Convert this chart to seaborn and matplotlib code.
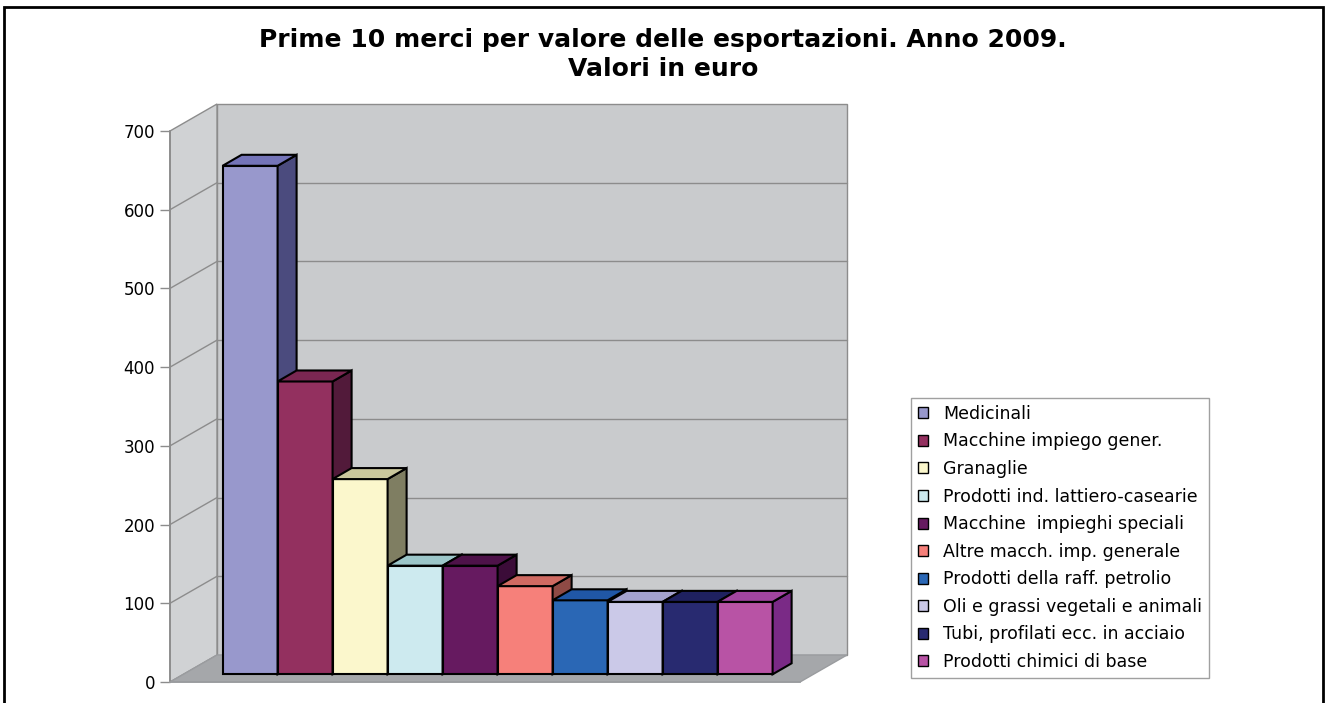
import numpy as np
import pandas as pd
import matplotlib
matplotlib.use("Agg")
import matplotlib.pyplot as plt
import seaborn as sns
from matplotlib.patches import Polygon, Rectangle, Patch
from matplotlib import transforms

# Exports by product, 2009 (euro)
categories = [
    "Medicinali",
    "Macchine impiego gener.",
    "Granaglie",
    "Prodotti ind. lattiero-casearie",
    "Macchine  impieghi speciali",
    "Altre macch. imp. generale",
    "Prodotti della raff. petrolio",
    "Oli e grassi vegetali e animali",
    "Tubi, profilati ecc. in acciaio",
    "Prodotti chimici di base",
]
values = [646, 372, 248, 138, 138, 112, 94, 92, 92, 92]
bar_colors = [
    "#9898cc", "#93305f", "#fbf7cc", "#cdeaef", "#661a60",
    "#f6807a", "#2a67b5", "#cbc9e8", "#282a70", "#b853a5",
]
# shaded faces of the columns (top, right side)
top_colors = [
    "#7474b8", "#7a2752", "#cac79c", "#9cc6c9", "#4e1249",
    "#cf6a62", "#2057a6", "#a3a2cd", "#1f2160", "#a245a0",
]
side_colors = [
    "#4b4b7e", "#521a3a", "#7f7e62", "#6a8a8c", "#3b0c38",
    "#8f4a45", "#1a3f78", "#7f7da0", "#151845", "#7a2a86",
]
yticks = [0, 100, 200, 300, 400, 500, 600, 700]
title_lines = ["Prime 10 merci per valore delle esportazioni. Anno 2009.",
               "Valori in euro"]

sns.set_theme(style="white")
plt.rcParams["font.family"] = ["DejaVu Sans"]

W, H = 1328, 703
fig = plt.figure(figsize=(W / 100, H / 100), dpi=100)
fig.patch.set_facecolor("white")
ax = fig.add_axes([170 / W, 21 / H, 630 / W, 551 / H])
ax.set_facecolor("none")

df = pd.DataFrame({"merce": categories, "valore": values})
sns.barplot(data=df, x="merce", y="valore", hue="merce", palette=bar_colors,
            width=1, saturation=1, edgecolor="black", linewidth=1.5,
            legend=False, ax=ax)
bars = sorted([p for p in ax.patches if isinstance(p, Rectangle)],
              key=lambda p: p.get_x())

XLIM = (-1.209, 10.245)
YLIM = (0, 700)
ax.set_xlim(*XLIM)
ax.set_ylim(*YLIM)
ax.set_autoscale_on(False)

# pixel -> data unit scales
sx = ax.bbox.width / (XLIM[1] - XLIM[0])
sy = ax.bbox.height / (YLIM[1] - YLIM[0])
wdx, wdy = 47 / sx, 27 / sy      # depth of the walls
bdx, bdy = 19 / sx, 11 / sy      # depth of each column

x0, x1 = XLIM
ytop = YLIM[1]
grid_c = "#8c8c8c"

# walls and floor
ax.add_patch(Rectangle((x0 + wdx, wdy), x1 - x0, ytop, facecolor="#c9cbcd",
                       edgecolor=grid_c, lw=1, zorder=0.2, clip_on=False))
ax.add_patch(Polygon([(x0, 0), (x0, ytop), (x0 + wdx, ytop + wdy), (x0 + wdx, wdy)],
                     closed=True, facecolor="#d0d2d4", edgecolor=grid_c, lw=1,
                     zorder=0.3, clip_on=False))
for v in yticks[1:-1]:
    ax.plot([x0 + wdx, x1 + wdx], [v + wdy, v + wdy], color=grid_c, lw=1,
            zorder=0.25, clip_on=False)
    ax.plot([x0, x0 + wdx], [v, v + wdy], color=grid_c, lw=1,
            zorder=0.35, clip_on=False)
ax.add_patch(Polygon([(x0, 0), (x1, 0), (x1 + wdx, wdy), (x0 + wdx, wdy)],
                     closed=True, facecolor="#a5a7aa", edgecolor="#9a9c9f", lw=1,
                     zorder=0.4, clip_on=False))

# columns sit a little behind the front plane
bar_tr = ax.transData + transforms.ScaledTranslation(13.6 / 100, 7.7 / 100,
                                                     fig.dpi_scale_trans)

for i, (p, tc, sc) in enumerate(zip(bars, top_colors, side_colors)):
    x, w, h = p.get_x(), p.get_width(), p.get_height()
    z = 2 + i * 0.1
    p.set_transform(bar_tr)
    p.set_zorder(z)
    top = Polygon([(x, h), (x + w, h), (x + w + bdx, h + bdy), (x + bdx, h + bdy)],
                  closed=True, facecolor=tc, edgecolor="black",
                  lw=1.5, zorder=z, transform=bar_tr, clip_on=False)
    side = Polygon([(x + w, 0), (x + w, h), (x + w + bdx, h + bdy), (x + w + bdx, bdy)],
                   closed=True, facecolor=sc, edgecolor="black",
                   lw=1.5, zorder=z, transform=bar_tr, clip_on=False)
    ax.add_patch(side)
    ax.add_patch(top)

# axes styling
for s in ["top", "right"]:
    ax.spines[s].set_visible(False)
ax.spines["left"].set_color(grid_c)
ax.spines["bottom"].set_color("#9a9c9f")
ax.spines["left"].set_zorder(0.5)
ax.set_yticks(yticks)
ax.set_yticklabels([str(t) for t in yticks])
ax.tick_params(axis="y", left=True, length=7.2, width=1, color=grid_c,
               pad=3.6, labelsize=12, labelcolor="black")
ax.tick_params(axis="x", bottom=False, labelbottom=False)
ax.set_xlabel("")
ax.set_ylabel("")

# legend
handles = [Patch(facecolor=c, edgecolor="black", lw=1) for c in bar_colors]
leg = fig.legend(handles, categories, loc="upper left",
                 bbox_to_anchor=(911 / W, 1 - 398 / H), frameon=True,
                 fancybox=False, edgecolor="#888888", fontsize=12.5,
                 labelcolor="black",
                 handlelength=0.6, handleheight=0.6, handletextpad=0.85,
                 labelspacing=0.55, borderpad=0.4, borderaxespad=0)
leg.get_frame().set_linewidth(1)

fig.text(663 / W, 1 - 47 / H, title_lines[0], ha="center", va="baseline",
         fontsize=18, fontweight="bold", color="black")
fig.text(663 / W, 1 - 76 / H, title_lines[1], ha="center", va="baseline",
         fontsize=18, fontweight="bold", color="black")

fig.add_artist(Rectangle((4 / W, -0.02), (1323 - 4) / W, (H - 7) / H + 0.02,
                         transform=fig.transFigure, fill=False,
                         edgecolor="black", lw=2))

fig.savefig("out.png", dpi=100)
